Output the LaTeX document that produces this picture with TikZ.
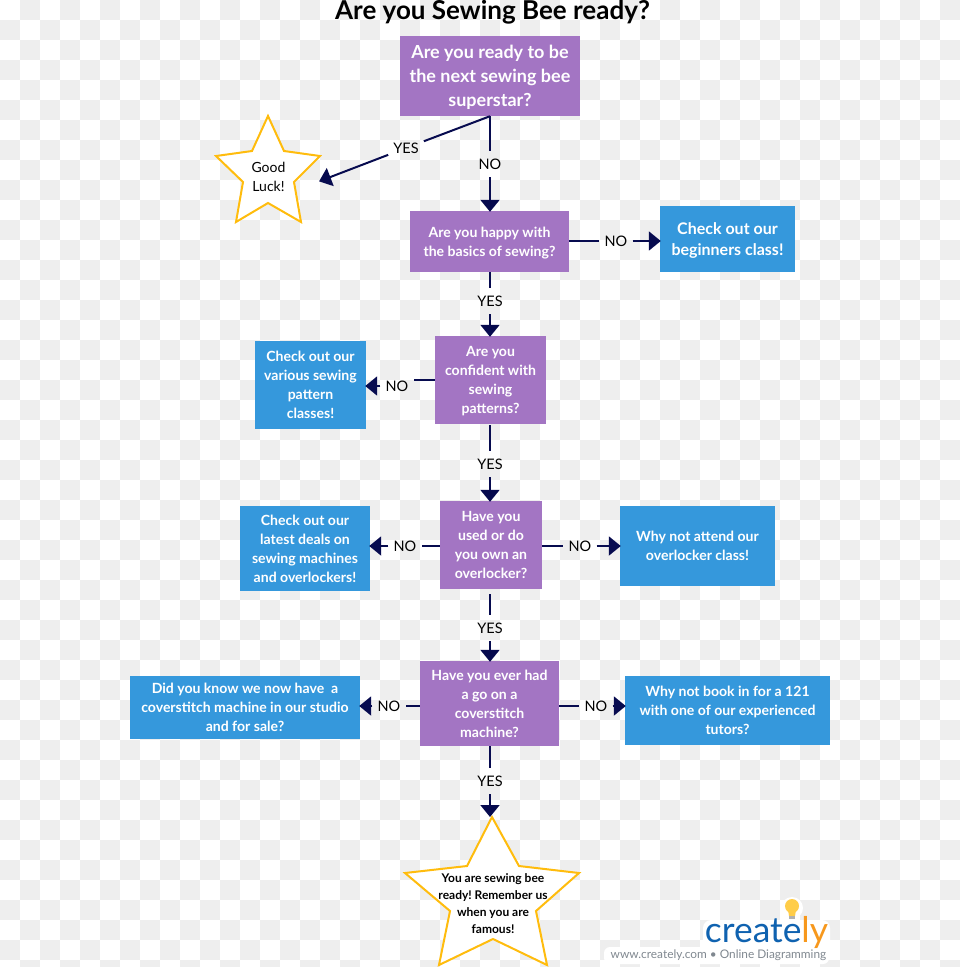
\documentclass[tikz,border=0pt]{standalone}
\usepackage{fontspec}
\setmainfont{Lato}
\usetikzlibrary{arrows.meta, positioning, calc}
\definecolor{askpurple}{HTML}{A375C3}
\definecolor{tipblue}{HTML}{3598DC}
\definecolor{stargold}{HTML}{FFBC0D}
\definecolor{linknavy}{HTML}{070B4F}
\definecolor{checkgray}{HTML}{EEEEEE}
\definecolor{logoblue}{HTML}{0F62B0}
\definecolor{logoorange}{HTML}{F7981D}
\definecolor{tagline}{HTML}{808890}

\begin{document}
\frenchspacing
\begin{tikzpicture}[
  x=1pt, y=-1pt,
  ask/.style={fill=askpurple, text=white, inner sep=0pt, align=center, text depth=-2pt,
              font=\fontsize{14.05}{19}\selectfont\bfseries},
  tip/.style={ask, fill=tipblue},
  answer/.style={inner xsep=5pt, inner ysep=0pt, minimum height=26pt,
                 font=\fontsize{14.5}{17}\selectfont},
  link/.style={line width=2pt, color=linknavy},
  arrow/.style={link, shorten >=-1pt, -{Triangle[length=12pt, width=19pt]}},
  starline/.style={draw=stargold, fill=white, line width=2pt, line join=miter},
  startext/.style={align=center, inner sep=0pt}
]
  \useasboundingbox (0,0) rectangle (960,967);

  % Backdrop squares
  \foreach \i in {0,...,47}
    \foreach \j in {0,...,48} {
      \pgfmathparse{int(mod(\i+\j,2))}
      \ifnum\pgfmathresult=1
        \fill[checkgray] (\i*20,\j*20) rectangle ++(20,20);
      \fi
    }

  % Title
  \node[font=\fontsize{26}{28}\selectfont\bfseries] (title) at (492.5,12) {Are you Sewing Bee ready?};

  % Question column
  \node[ask, minimum width=180pt, minimum height=80pt, text depth=-1.5pt, font=\fontsize{18}{24}\selectfont\bfseries] (ready) at (490,76)
    {Are you ready to be\\the next sewing bee\\superstar?};
  \node[ask, minimum width=159pt, minimum height=61pt, text depth=-0.5pt] (basics) at (489.5,241.5)
    {Are you happy with\\the basics of sewing?};
  \node[ask, minimum width=111pt, minimum height=88pt] (patterns) at (490.5,380)
    {Are you\\confident with\\sewing\\patterns?};
  \node[ask, minimum width=102pt, minimum height=88pt] (overlocker) at (491,545)
    {Have you\\used or do\\you own an\\overlocker?};
  \node[ask, minimum width=139pt, minimum height=85pt, text depth=-0.5pt] (coverstitch) at (489.5,703.5)
    {Have you ever had\\a go on a\\coverstitch\\machine?};

  % Suggestions on both sides
  \node[tip, minimum width=135pt, minimum height=66pt, text depth=0pt, font=\fontsize{16}{21}\selectfont\bfseries] (beginners) at (727.5,239)
    {Check out our\\beginners class!};
  \node[tip, minimum width=111pt, minimum height=88pt] (classes) at (310.5,385)
    {Check out our\\various sewing\\pattern\\classes!};
  \node[tip, minimum width=130pt, minimum height=85pt, text depth=-0.5pt] (deals) at (305,548.5)
    {Check out our\\latest deals on\\sewing machines\\and overlockers!};
  \node[tip, minimum width=155pt, minimum height=80pt] (attend) at (697.5,546)
    {Why not attend our\\overlocker class!};
  \node[tip, minimum width=230pt, minimum height=63pt] (studio) at (245,707.5)
    {Did you know we now have\ \ a\\coverstitch machine in our studio\\and for sale?};
  \node[tip, minimum width=205pt, minimum height=69pt] (tutors) at (727.5,710.5)
    {Why not book in for a 121\\with one of our experienced\\tutors?};

  % Stars
  \draw[starline] (268,116) -- (284,151) -- (320,156) -- (294,182) -- (301,222)
    -- (268,203) -- (236,222) -- (243,182) -- (216,156) -- (252,151) -- cycle;
  \draw[starline] (492,817) -- (519,866) -- (579,873) -- (536,911) -- (547,965)
    -- (493,939) -- (439,965) -- (450,911) -- (405,873) -- (467,866) -- cycle;
  \node[startext, font=\fontsize{14}{19}\selectfont] (luck) at (268.5,176.5) {Good\\Luck!};
  \node[startext, font=\fontsize{12}{17}\selectfont\bfseries] (famous) at (493,903.5)
    {You are sewing bee\\ready! Remember us\\when you are\\famous!};
  \coordinate (luckpt) at (320,181);
  \coordinate (famouspt) at (490,816);

  % Answers
  \node[answer] (yesluck) at (406,148) {YES};
  \node[answer] (noready) at (490,164) {NO};
  \node[answer] (nobasics) at (616,241) {NO};
  \node[answer] (yesbasics) at (490,301) {YES};
  \node[answer] (nopatterns) at (397,386) {NO};
  \node[answer] (yespatterns) at (490,464) {YES};
  \node[answer] (nodeals) at (405,546) {NO};
  \node[answer] (noattend) at (580,546) {NO};
  \node[answer] (yesover) at (490,628) {YES};
  \node[answer] (nostudio) at (389,706) {NO};
  \node[answer] (notutors) at (596,706) {NO};
  \node[answer] (yesstitch) at (490,781) {YES};

  % Connectors
  \draw[link] (ready.south) -- (yesluck);
  \draw[arrow] (yesluck) -- (luckpt);
  \draw[link] (ready.south) -- (noready);
  \draw[arrow] (noready) -- (noready |- basics.north);
  \draw[link] (nobasics -| basics.east) -- (nobasics);
  \draw[arrow] (nobasics) -- (nobasics -| beginners.west);
  \draw[link] (yesbasics |- basics.south) -- (yesbasics);
  \draw[arrow] (yesbasics) -- (yesbasics |- patterns.north);
  \draw[link] (patterns.west) -- (patterns.west -| nopatterns.east);
  \draw[arrow] (nopatterns) -- (nopatterns -| classes.east);
  \draw[link, shorten <=1pt] (yespatterns |- patterns.south) -- (yespatterns);
  \draw[arrow] (yespatterns) -- (yespatterns |- overlocker.north);
  \draw[link] (nodeals -| overlocker.west) -- (nodeals);
  \draw[arrow] (nodeals) -- (nodeals -| deals.east);
  \draw[link] (noattend -| overlocker.east) -- (noattend);
  \draw[arrow] (noattend) -- (noattend -| attend.west);
  \draw[link, shorten <=5pt] (yesover |- overlocker.south) -- (yesover);
  \draw[arrow] (yesover) -- (yesover |- coverstitch.north);
  \draw[link] (nostudio -| coverstitch.west) -- (nostudio);
  \draw[arrow] (nostudio) -- (nostudio -| studio.east);
  \draw[link] (notutors -| coverstitch.east) -- (notutors);
  \draw[arrow] (notutors) -- (notutors -| tutors.west);
  \draw[link] (yesstitch |- coverstitch.south) -- (yesstitch);
  \draw[arrow] (yesstitch) -- (famouspt);

  % Logo
  \fill[white, rounded corners=8pt] (703,920) rectangle (830,952);
  \fill[white, rounded corners=6pt] (604,947) rectangle (829,964);
  \fill[white] (792,908) circle (11);
  \fill[stargold!75] (792,906) circle (7);
  \fill[stargold!75] (788,910) -- (796,910) -- (795,916) -- (789,916) -- cycle;
  \fill[gray!60] (789,916) rectangle (795,919);
  \node[inner sep=0pt, font=\fontsize{35.4}{38}\selectfont, text=logoblue] (logo) at (766.5,932)
    {create\textcolor{logoorange}{ly}};
  \node[inner sep=0pt, font=\fontsize{11.85}{14}\selectfont, text=tagline] (tag) at (718.5,955)
    {www.creately.com • Online Diagramming};
\end{tikzpicture}
\end{document}
